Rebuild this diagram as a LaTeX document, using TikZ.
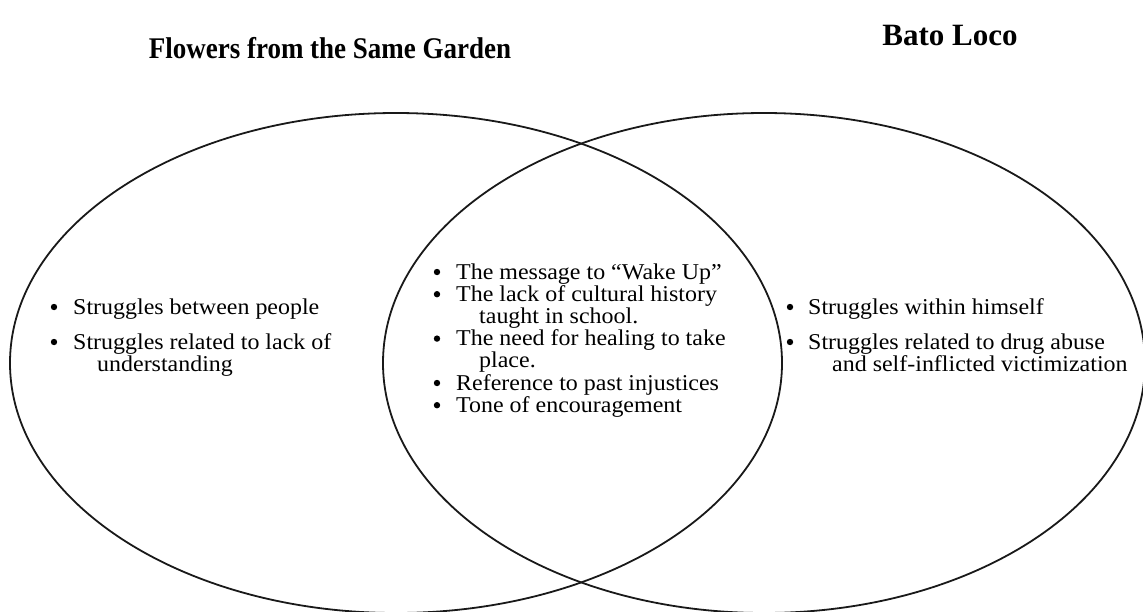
\documentclass[tikz,border=0pt]{standalone}
\usepackage{fontspec}
\setmainfont{Liberation Serif}
\newfontfamily\ttlcond[FakeStretch=0.9,Ligatures=TeX]{Liberation Serif}
\newfontfamily\bodywide[FakeStretch=1.06,Ligatures=TeX]{Liberation Serif}
\begin{document}
\begin{tikzpicture}[x=1pt,y=-1pt,
  venn/.style={draw=black!90,line width=1.8pt},
  ttl/.style={font=\fontsize{31}{36}\selectfont\bfseries,anchor=base,inner sep=0pt},
  itm/.style={font=\fontsize{22.6}{22.2}\selectfont\bodywide,anchor=base west,align=left,inner sep=0pt},
  bul/.style={circle,fill=black,inner sep=0pt,minimum size=6.4pt}]
\useasboundingbox (0,0) rectangle (1143,611);
\clip (0,0) rectangle (1143,611);
% titles
\node[ttl,font=\fontsize{30}{36}\selectfont\ttlcond\bfseries] (t1) at (330,58) {Flowers from the Same Garden};
\node[ttl] (t2) at (950,45) {Bato Loco};
% circles
\draw[venn] (396,363) ellipse [x radius=386, y radius=250];
\draw[venn] (764,363) ellipse [x radius=381, y radius=250];
% left items (a two-line node has its base on its last line)
\node[itm] (l1) at (73,314) {Struggles between people};
\node[itm] (l2) at (73,371.2) {Struggles related to lack of\\\hspace*{24pt}understanding};
\node[bul] at ([xshift=-19pt,yshift=7pt]l1.base west) {};
\node[bul] at ([xshift=-19pt,yshift=29.2pt]l2.base west) {};
% center items
\node[itm] (c1) at (456,279) {The message to “Wake Up”};
\node[itm] (c2) at (456,323.4) {The lack of cultural history\\\hspace*{23pt}taught in school.};
\node[itm] (c3) at (456,367.8) {The need for healing to take\\\hspace*{23pt}place.};
\node[itm] (c4) at (456,390) {Reference to past injustices};
\node[itm] (c5) at (456,412.2) {Tone of encouragement};
\node[bul] at ([xshift=-19pt,yshift=7pt]c1.base west) {};
\node[bul] at ([xshift=-19pt,yshift=29.2pt]c2.base west) {};
\node[bul] at ([xshift=-19pt,yshift=29.2pt]c3.base west) {};
\node[bul] at ([xshift=-19pt,yshift=7pt]c4.base west) {};
\node[bul] at ([xshift=-19pt,yshift=7pt]c5.base west) {};
% right items
\node[itm] (r1) at (808,314) {Struggles within himself};
\node[itm] (r2) at (808,371.2) {Struggles related to drug abuse\\\hspace*{24pt}and self-inflicted victimization};
\node[bul] at ([xshift=-18pt,yshift=7pt]r1.base west) {};
\node[bul] at ([xshift=-18pt,yshift=29.2pt]r2.base west) {};
\end{tikzpicture}
\end{document}
